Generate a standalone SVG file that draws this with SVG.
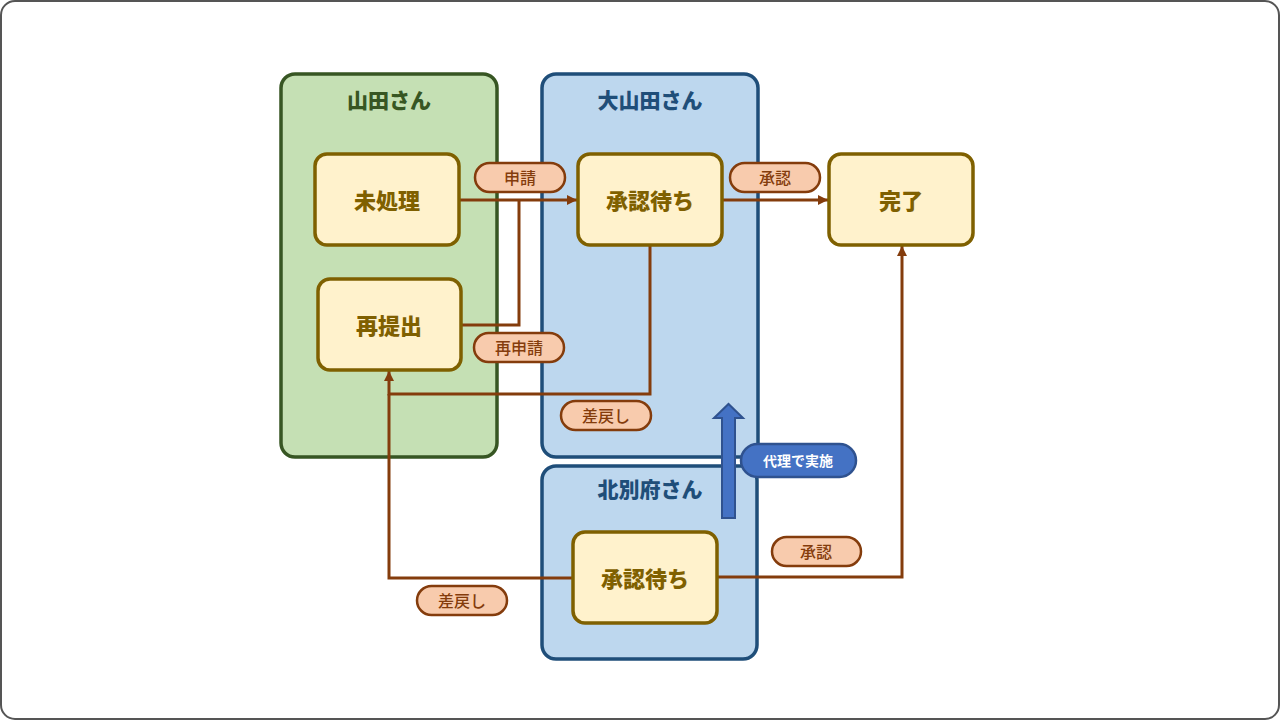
<svg xmlns="http://www.w3.org/2000/svg" width="1280" height="720" viewBox="0 0 1280 720">
<defs>
<marker id="ah" viewBox="0 0 10 10" refX="10" refY="5" markerWidth="10" markerHeight="10" markerUnits="userSpaceOnUse" orient="auto">
<path d="M0,0 L10,5 L0,10 Z" fill="#843c0c"/>
</marker>
<style>
text{font-family:"Noto Sans CJK JP","Noto Sans",sans-serif;text-anchor:middle;dominant-baseline:central}
.lane-g rect{fill:#c5e0b4;stroke:#375623;stroke-width:3.5}
.lane-b rect{fill:#bdd7ee;stroke:#1f4e79;stroke-width:3.5}
.lt{font-size:21px;font-weight:900}
.node rect{fill:#fff2cc;stroke:#7f6000;stroke-width:3.5}
.node text{fill:#7f6000;font-size:22px;font-weight:900}
.conn{fill:none;stroke:#843c0c;stroke-width:3}
.lbl rect{fill:#f8cbad;stroke:#843c0c;stroke-width:2.5}
.lbl text{fill:#843c0c;font-size:16px;font-weight:500}
</style>
</defs>
<rect x="1" y="1" width="1278" height="718" rx="14" fill="#fff" stroke="#555" stroke-width="2"/>
<g id="lane-yamada" class="lane-g">
<rect x="281" y="74" width="216" height="383" rx="14"/>
<text x="389" y="99" class="lt" fill="#375623">山田さん</text>
</g>
<g id="lane-ooyamada" class="lane-b">
<rect x="542" y="74" width="216" height="383" rx="14"/>
<text x="650" y="99" class="lt" fill="#1f4e79">大山田さん</text>
</g>
<g id="lane-kitabeppu" class="lane-b">
<rect x="542" y="466" width="215" height="193" rx="14"/>
<text x="650" y="488" class="lt" fill="#1f4e79">北別府さん</text>
</g>
<g id="connectors">
<path class="conn" d="M459,200 H577" marker-end="url(#ah)"/>
<path class="conn" d="M461,325 H519 V200"/>
<path class="conn" d="M722,200 H828" marker-end="url(#ah)"/>
<path class="conn" d="M650,245 V394 H389 V371" marker-end="url(#ah)"/>
<path class="conn" d="M573,578 H389 V394"/>
<path class="conn" d="M717,577 H902 V246" marker-end="url(#ah)"/>
</g>
<g id="n-mishori" class="node">
<rect x="315" y="154" width="144" height="91" rx="12"/>
<text x="387" y="199">未処理</text>
</g>
<g id="n-saiteishutsu" class="node">
<rect x="318" y="279" width="143" height="91" rx="12"/>
<text x="389" y="324">再提出</text>
</g>
<g id="n-shoninmachi1" class="node">
<rect x="578" y="154" width="144" height="91" rx="12"/>
<text x="650" y="199">承認待ち</text>
</g>
<g id="n-kanryo" class="node">
<rect x="829" y="154" width="144" height="91" rx="12"/>
<text x="901" y="199">完了</text>
</g>
<g id="n-shoninmachi2" class="node">
<rect x="573" y="532" width="144" height="91" rx="12"/>
<text x="645" y="577">承認待ち</text>
</g>
<g id="l-shinsei" class="lbl">
<rect x="475" y="163" width="90" height="29" rx="14.5"/>
<text x="520" y="177">申請</text>
</g>
<g id="l-shonin1" class="lbl">
<rect x="730" y="163" width="90" height="29" rx="14.5"/>
<text x="775" y="177">承認</text>
</g>
<g id="l-saishinsei" class="lbl">
<rect x="474" y="333" width="90" height="29" rx="14.5"/>
<text x="519" y="347">再申請</text>
</g>
<g id="l-sashimodoshi1" class="lbl">
<rect x="561" y="401" width="90" height="29" rx="14.5"/>
<text x="606" y="415">差戻し</text>
</g>
<g id="l-sashimodoshi2" class="lbl">
<rect x="417" y="586" width="90" height="29" rx="14.5"/>
<text x="462" y="600">差戻し</text>
</g>
<g id="l-shonin2" class="lbl">
<rect x="772" y="537" width="89" height="29" rx="14.5"/>
<text x="816" y="551">承認</text>
</g>
<g id="proxy">
<path d="M722,518 V418 H714 L728.5,404 L743,418 H735 V518 Z" fill="#4472c4" stroke="#2f528f" stroke-width="2"/>
<rect x="741" y="444" width="115" height="33" rx="16.5" fill="#4472c4" stroke="#2f528f" stroke-width="2.5"/>
<text x="798" y="460" fill="#fff" font-size="14" font-weight="bold">代理で実施</text>
</g>
</svg>
